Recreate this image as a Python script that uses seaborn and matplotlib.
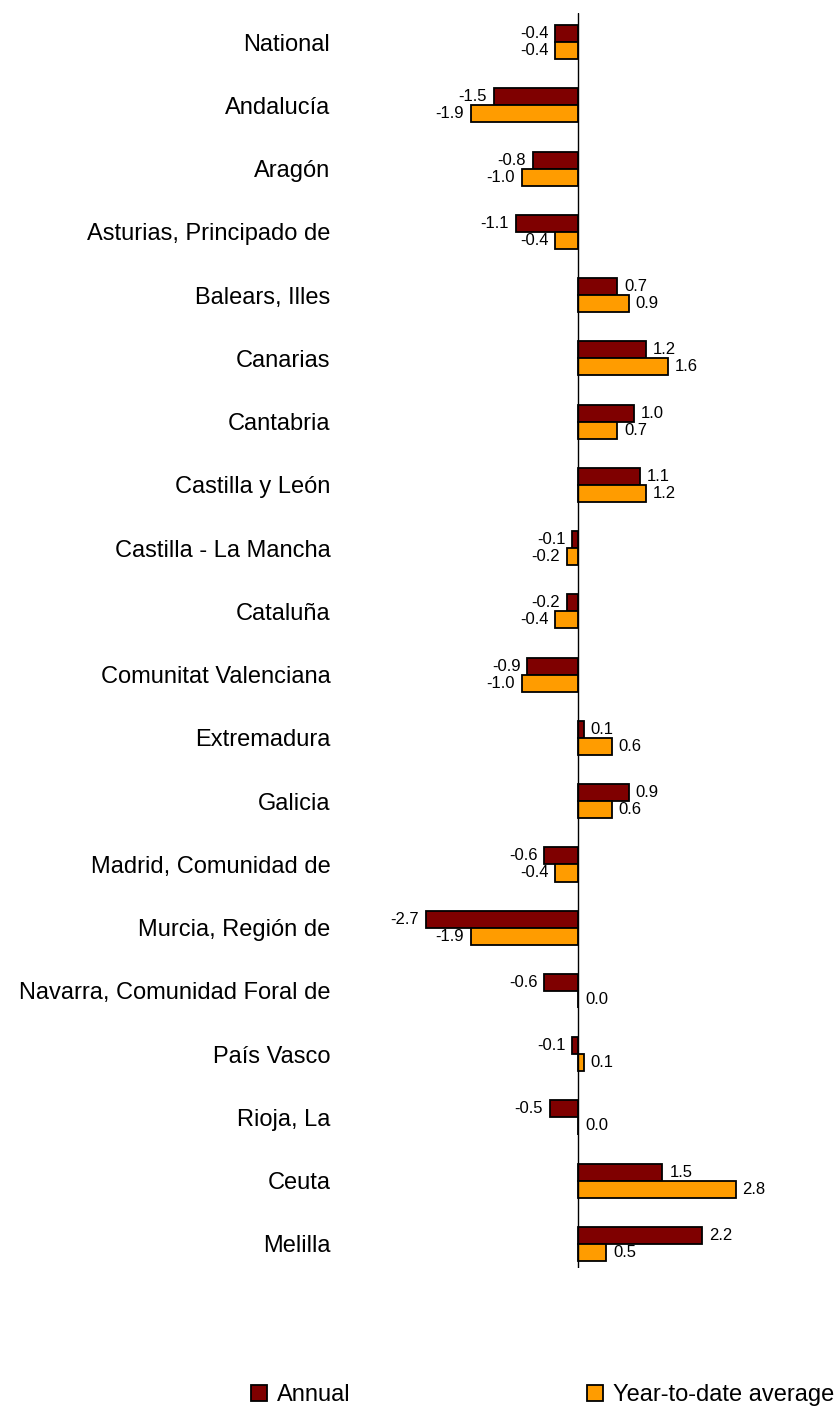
import pandas as pd
import matplotlib.pyplot as plt
import seaborn as sns

# Regions and values
regions = ['National', 'Andalucía', 'Aragón', 'Asturias, Principado de', 'Balears, Illes',
           'Canarias', 'Cantabria', 'Castilla y León', 'Castilla - La Mancha', 'Cataluña',
           'Comunitat Valenciana', 'Extremadura', 'Galicia', 'Madrid, Comunidad de',
           'Murcia, Región de', 'Navarra, Comunidad Foral de', 'País Vasco', 'Rioja, La',
           'Ceuta', 'Melilla']
annual = [-0.4, -1.5, -0.8, -1.1, 0.7, 1.2, 1.0, 1.1, -0.1, -0.2,
          -0.9, 0.1, 0.9, -0.6, -2.7, -0.6, -0.1, -0.5, 1.5, 2.2]
ytd = [-0.4, -1.9, -1.0, -0.4, 0.9, 1.6, 0.7, 1.2, -0.2, -0.4,
       -1.0, 0.6, 0.6, -0.4, -1.9, 0.0, 0.1, 0.0, 2.8, 0.5]
series = ['Annual', 'Year-to-date average']
colors = ['#7F0000', '#FF9C00']

df = pd.DataFrame({'Region': regions * 2,
                   'Value': annual + ytd,
                   'Series': [series[0]] * len(regions) + [series[1]] * len(regions)})

sns.set_style('white')
plt.rcParams['font.family'] = ['Liberation Sans', 'DejaVu Sans']
plt.rcParams['text.color'] = 'black'
plt.rcParams['ytick.color'] = 'black'

fig = plt.figure(figsize=(8.36, 14.07), dpi=100)
ax = fig.add_axes([340 / 836, 1 - 1268 / 1407, (836 - 340) / 836, 1255 / 1407])

sns.barplot(data=df, y='Region', x='Value', hue='Series', orient='h',
            palette=colors, width=0.54, edgecolor='black',
            linewidth=1.3, saturation=1, ax=ax)

for cont in ax.containers:
    ax.bar_label(cont, fmt='%.1f', padding=5, fontsize=12, color='black')

ax.axvline(0, color='black', lw=1)
ax.set_xlim((340 - 578) / 56.3, (836 - 578) / 56.3)
ax.set_ylim(19.38, -0.46)
for s in ax.spines.values():
    s.set_visible(False)
ax.set_xticks([])
ax.tick_params(axis='y', length=0, pad=7, labelsize=17)
ax.set_xlabel('')
ax.set_ylabel('')

ax.get_legend().remove()
handles = [plt.Rectangle((0, 0), 1, 1, facecolor=colors[0], edgecolor='black', lw=1.3),
           plt.Rectangle((0, 0), 1, 1, facecolor=colors[1], edgecolor='black', lw=1.3)]
fig.legend(handles, series, loc='lower left', bbox_to_anchor=(251 / 836, 1 / 1407),
           ncol=2, frameon=False, fontsize=17, handlelength=0.68, handleheight=0.68,
           handletextpad=0.42, columnspacing=10.0, borderpad=0, borderaxespad=0)

fig.savefig('out.png', dpi=100)
